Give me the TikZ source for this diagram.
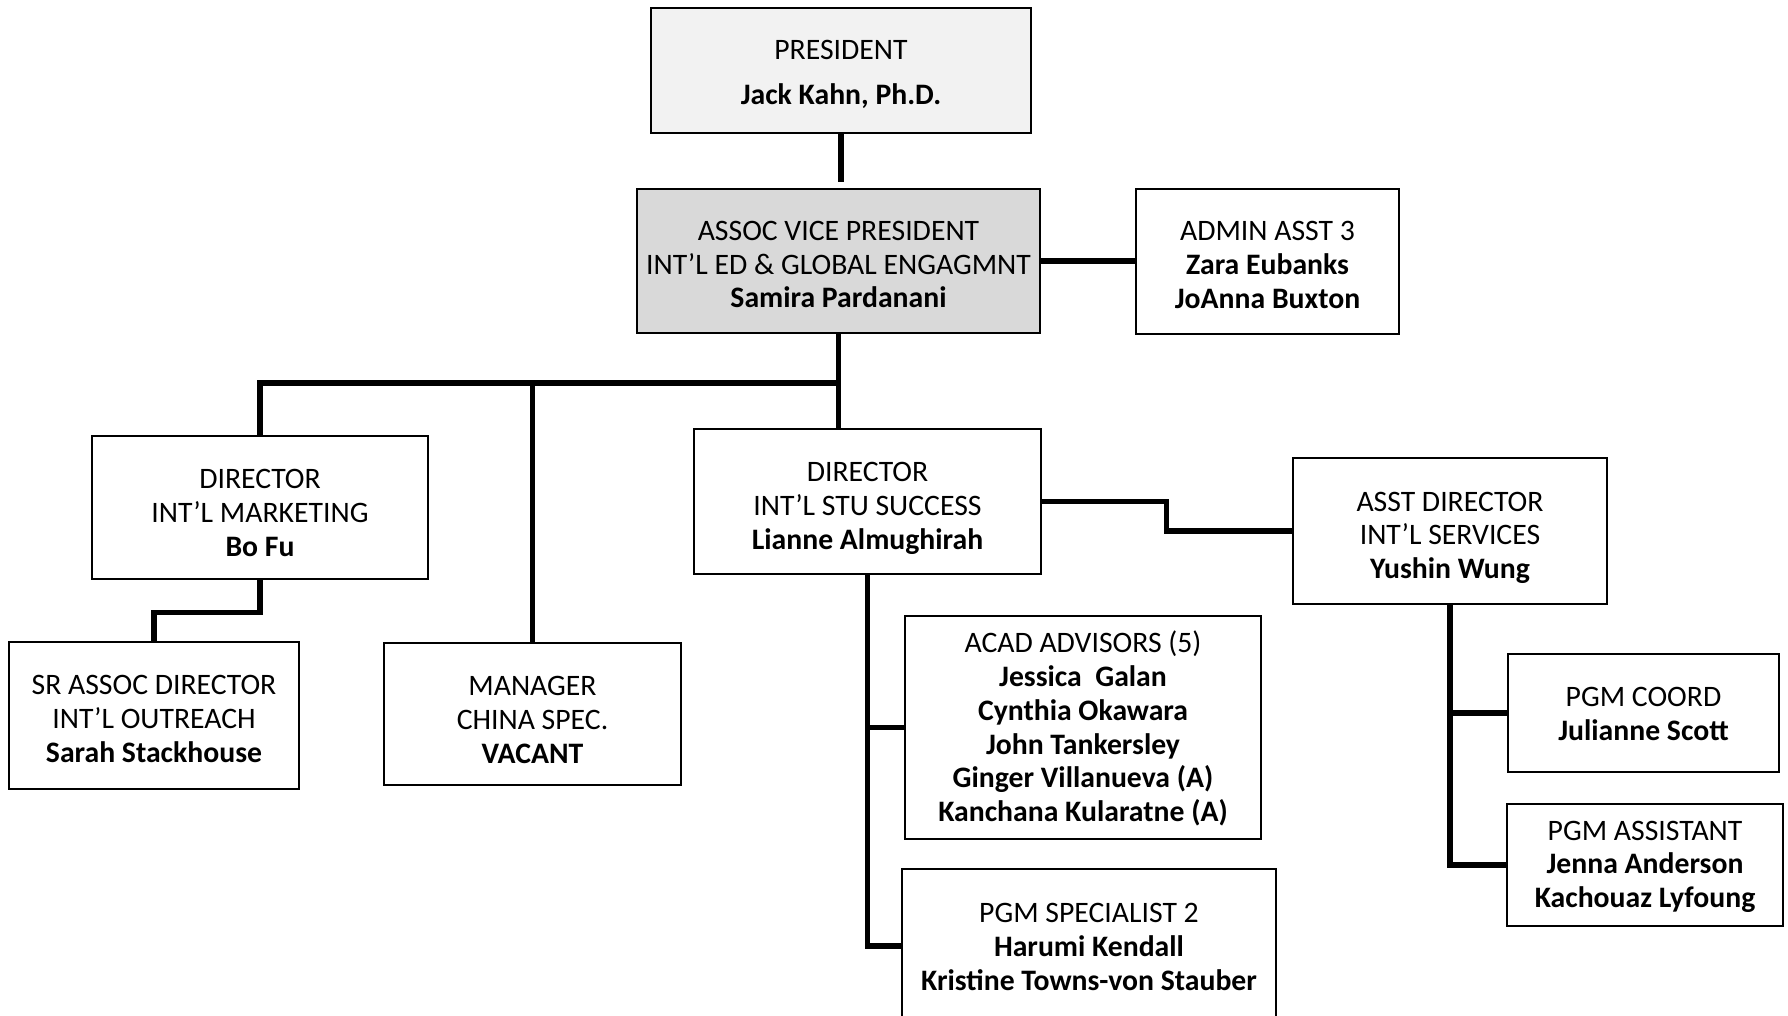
\documentclass[tikz,border=0pt]{standalone}
\usepackage{fontspec}
\setmainfont{Carlito}
\definecolor{presfill}{HTML}{F2F2F2}
\definecolor{avpfill}{HTML}{D9D9D9}
\begin{document}
\begin{tikzpicture}[x=0.01cm,y=-0.01cm,
  box/.style={draw, line width=0.6pt, fill=white, inner sep=0pt},
  txt/.style={align=center, inner sep=0pt, font=\fontsize{8.45}{9.6}\selectfont},
  conn/.style={line width=1.45pt}]
\useasboundingbox (0,0) rectangle (1788,1016);
% nodes
\node[box, fill=presfill, minimum width=3.8cm, minimum height=1.25cm,
  label={[txt, yshift=-0.035cm]center:{PRESIDENT\\[3.2pt]\textbf{Jack Kahn, Ph.D.}}}] (pres) at (841,70.5) {};
\node[box, fill=avpfill, minimum width=4.03cm, minimum height=1.44cm,
  label={[txt, yshift=-0.035cm]center:{ASSOC VICE PRESIDENT\\INT’L ED \& GLOBAL ENGAGMNT\\\textbf{Samira Pardanani}}}] (avp) at (838.5,261) {};
\node[box, minimum width=2.63cm, minimum height=1.45cm,
  label={[txt, yshift=-0.035cm]center:{ADMIN ASST 3\\\textbf{Zara Eubanks}\\\textbf{JoAnna Buxton}}}] (admin) at (1267.5,261.5) {};
\node[box, minimum width=3.36cm, minimum height=1.43cm,
  label={[txt, yshift=-0.057cm]center:{DIRECTOR\\INT’L MARKETING\\\textbf{Bo Fu}}}] (mkt) at (260,507.5) {};
\node[box, minimum width=2.97cm, minimum height=1.42cm,
  label={[txt, yshift=-0.057cm]center:{MANAGER\\CHINA SPEC.\\\textbf{VACANT}}}] (mgr) at (532.5,714) {};
\node[box, minimum width=2.9cm, minimum height=1.47cm,
  label={[txt, yshift=-0.035cm]center:{SR ASSOC DIRECTOR\\INT’L OUTREACH\\\textbf{Sarah Stackhouse}}}] (sr) at (154,715.5) {};
\node[box, minimum width=3.47cm, minimum height=1.45cm,
  label={[txt, yshift=-0.068cm]center:{DIRECTOR\\INT’L STU SUCCESS\\\textbf{Lianne Almughirah}}}] (stu) at (867.5,501.5) {};
\node[box, minimum width=3.14cm, minimum height=1.46cm,
  label={[txt, yshift=-0.068cm]center:{ASST DIRECTOR\\INT’L SERVICES\\\textbf{Yushin Wung}}}] (asst) at (1450,531) {};
\node[box, minimum width=3.56cm, minimum height=2.23cm,
  label={[txt, yshift=-0.012cm]center:{ACAD ADVISORS (5)\\\textbf{Jessica~~Galan}\\\textbf{Cynthia Okawara}\\\textbf{John Tankersley}\\\textbf{Ginger Villanueva (A)}\\\textbf{Kanchana Kularatne (A)}}}] (acad) at (1083,727.5) {};
\node[box, minimum width=3.74cm, minimum height=1.54cm,
  label={[txt, yshift=-0.012cm]center:{PGM SPECIALIST 2\\\textbf{Harumi Kendall}\\\textbf{Kristine Towns-von Stauber}}}] (spec) at (1089,946) {};
\node[box, minimum width=2.71cm, minimum height=1.18cm,
  label={[txt, yshift=-0.012cm]center:{PGM COORD\\\textbf{Julianne Scott}}}] (coord) at (1643.5,713) {};
\node[box, minimum width=2.76cm, minimum height=1.22cm,
  label={[txt, yshift=-0.017cm]center:{PGM ASSISTANT\\\textbf{Jenna Anderson}\\\textbf{Kachouaz Lyfoung}}}] (pgma) at (1645,865) {};
% helper coordinates
\coordinate (bus) at (838.5,383);
\coordinate (bend) at (1166.5,0);
% connectors
\draw[conn, shorten >=0.06cm] (pres.south) -- (pres.south |- avp.north);
\draw[conn] (avp.east) -- (avp.east -| admin.west);
\draw[conn] (avp.south) -- (avp.south |- stu.north);
\draw[conn] (mkt.north) -- (mkt.north |- bus) -- (bus);
\draw[conn] (mgr.north) -- (mgr.north |- bus);
\draw[conn] (mkt.south) -- ++(0,32) -| (sr.north);
\draw[conn] (stu.east) -- (stu.east -| bend) |- (asst.west);
\draw[conn] (stu.south) -- (stu.south |- spec.west) -- (spec.west);
\draw[conn] (stu.south |- acad.west) -- (acad.west);
\draw[conn] (asst.south) -- (asst.south |- pgma.west) -- (pgma.west);
\draw[conn] (asst.south |- coord.west) -- (coord.west);
\end{tikzpicture}
\end{document}
